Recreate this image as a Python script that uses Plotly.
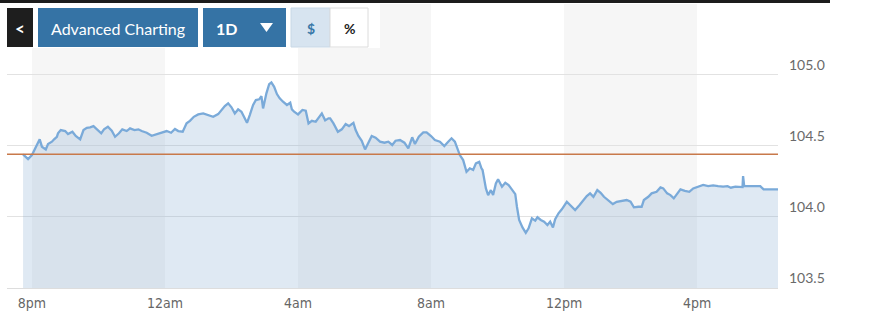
import plotly.graph_objects as go

# ---- data ----
times = ["19:44","19:53","20:00","20:08","20:14","20:18","20:25","20:29","20:36","20:40",
         "20:45","20:47","20:52","21:00","21:05","21:13","21:19","21:27","21:33","21:39",
         "21:45","21:51","21:57","22:05","22:10","22:17","22:24","22:30","22:37","22:43",
         "22:51","22:57","23:05","23:12","23:18","23:27","23:36","23:45","23:54",
         "00:03","00:11","00:18","00:24","00:32","00:39","00:45","00:52","01:00","01:09",
         "01:18","01:27","01:36","01:42","01:48","01:54","02:00","02:06","02:12","02:18",
         "02:24","02:28","02:33","02:39","02:44","02:50","02:54","02:57","03:03","03:08",
         "03:12","03:17","03:22","03:27","03:33","03:40","03:46","03:49","03:53",
         "04:00","04:08","04:14","04:19","04:25","04:32","04:38","04:43","04:49","04:55",
         "04:58","05:04","05:12","05:19","05:26","05:32","05:40","05:44","05:49","05:55",
         "06:01","06:06","06:13","06:20","06:28","06:36","06:43","06:50","06:56","07:04",
         "07:12","07:19","07:26","07:31","07:38","07:46","07:52",
         "08:00","08:07","08:16","08:24","08:31","08:37","08:43","08:48","08:52","08:58",
         "09:04","09:10","09:16","09:21","09:27","09:31","09:33","09:39","09:43","09:48",
         "09:52","09:57","10:01","10:08","10:14","10:20","10:26","10:32","10:35","10:39",
         "10:45","10:51","10:56","11:02","11:08","11:12","11:18","11:24","11:30","11:35",
         "11:40","11:44","11:50","11:56",
         "12:05","12:12","12:20","12:28","12:34","12:41","12:47","12:53","13:00","13:06",
         "13:12","13:20","13:28","13:35","13:44","13:53","14:00","14:06","14:14","14:20",
         "14:24","14:32","14:38","14:47","14:54","14:59","15:06","15:12","15:18","15:24",
         "15:30","15:38","15:46","15:53",
         "16:02","16:11","16:20","16:29","16:38","16:47","16:55","17:01","17:09","17:18",
         "17:22","17:23","17:25","17:36","17:45","17:54","18:00","18:12","18:26"]

prices = [104.439,104.406,104.434,104.493,104.545,104.493,104.474,104.512,104.528,104.545,
          104.563,104.587,104.610,104.603,104.582,104.598,104.568,104.545,104.610,104.626,
          104.629,104.638,104.615,104.587,104.615,104.633,104.605,104.563,104.587,104.615,
          104.603,104.622,104.610,104.615,104.603,104.591,104.570,104.582,104.594,
          104.603,104.591,104.618,104.603,104.598,104.657,104.675,104.703,104.720,104.727,
          104.715,104.703,104.722,104.755,104.779,104.798,104.770,104.727,104.755,104.739,
          104.692,104.661,104.715,104.786,104.821,104.826,104.849,104.762,104.868,104.933,
          104.945,104.914,104.863,104.833,104.809,104.786,104.802,104.755,104.739,
          104.720,104.751,104.746,104.657,104.675,104.668,104.696,104.727,104.678,104.692,
          104.692,104.657,104.598,104.615,104.652,104.638,104.661,104.610,104.568,104.535,
          104.474,104.517,104.568,104.556,104.528,104.521,104.528,104.505,104.535,104.540,
          104.521,104.481,104.559,104.512,104.563,104.594,104.594,
          104.568,104.540,104.528,104.498,104.528,104.552,104.528,104.474,104.434,104.399,
          104.317,104.341,104.329,104.376,104.387,104.341,104.329,104.200,104.153,104.188,
          104.153,104.235,104.264,104.212,104.240,104.224,104.188,104.160,104.071,103.978,
          103.926,103.888,103.919,103.990,103.973,103.997,103.978,103.966,103.942,103.966,
          103.926,103.983,104.025,104.053,
          104.106,104.076,104.048,104.083,104.113,104.146,104.165,104.141,104.188,104.169,
          104.141,104.118,104.090,104.106,104.113,104.118,104.106,104.067,104.071,104.071,
          104.118,104.141,104.165,104.176,104.207,104.200,104.165,104.153,104.130,104.165,
          104.193,104.183,104.176,104.200,
          104.212,104.224,104.216,104.221,104.216,104.212,104.216,104.205,104.212,104.207,
          104.209,104.287,104.216,104.216,104.216,104.216,104.193,104.193,104.193]

prev_close = 104.44
tick_times = ["2023-03-09 20:00", "2023-03-10 00:00", "2023-03-10 04:00",
              "2023-03-10 08:00", "2023-03-10 12:00", "2023-03-10 16:00"]
tick_labels = ["8pm", "12am", "4am", "8am", "12pm", "4pm"]
y_ticks = [103.5, 104.0, 104.5, 105.0]
y_labels = ["103.5", "104.0", "104.5", "105.0"]
bands = [("2023-03-09 20:00", "2023-03-10 00:00"),
         ("2023-03-10 04:00", "2023-03-10 08:00"),
         ("2023-03-10 12:00", "2023-03-10 16:00")]

n = min(len(times), len(prices))
xs = [("2023-03-09 " if int(t[:2]) >= 19 else "2023-03-10 ") + t for t in times[:n]]
ys = prices[:n]

# ---- layout geometry ----
W, H = 870, 325
ML, MR, MT, MB = 7, 92, 4, 37
PW, PH = W - ML - MR, H - MT - MB


def px(xp):
    return (xp - ML) / PW


def py(yp):
    return (H - MB - yp) / PH


fig = go.Figure()
fig.add_trace(go.Scatter(
    x=xs, y=ys, mode="lines",
    line=dict(color="#7aaad9", width=2.3),
    fill="tozeroy", fillcolor="rgba(122,165,205,0.24)",
    hoverinfo="skip", showlegend=False))

shapes = []
for a, b in bands:
    shapes.append(dict(type="rect", xref="x", yref="paper", x0=a, x1=b, y0=0, y1=1,
                       fillcolor="#f6f6f6", line=dict(width=0), layer="below"))
# white toolbar backdrop
shapes.append(dict(type="rect", xref="paper", yref="paper", x0=px(0), x1=px(380),
                   y0=py(48), y1=py(0), fillcolor="white", line=dict(width=0), layer="below"))
# previous close line
shapes.append(dict(type="line", xref="paper", yref="y", x0=0, x1=1, y0=prev_close, y1=prev_close,
                   line=dict(color="#c8794a", width=1.4), layer="above"))
# top border
shapes.append(dict(type="line", xref="paper", yref="paper", x0=px(0), x1=px(830),
                   y0=py(1.5), y1=py(1.5), line=dict(color="#1c1c1c", width=3), layer="above"))
# buttons
def rect(x0, x1, y0, y1, fill, line=None):
    shapes.append(dict(type="rect", xref="paper", yref="paper", x0=px(x0), x1=px(x1),
                       y0=py(y1), y1=py(y0), fillcolor=fill,
                       line=dict(width=1 if line else 0, color=line or fill), layer="above"))

rect(7, 33, 8, 47, "#1e1e1e")
rect(38, 198, 8, 47, "#3573a5")
rect(203, 286, 8, 47, "#3573a5")
rect(291, 330, 8, 47, "#d7e4f0", "#c8d8e6")
rect(330, 368, 8, 47, "#ffffff", "#dcdcdc")
# dropdown triangle
shapes.append(dict(type="path", xref="paper", yref="paper",
                   path=f"M {px(260)} {py(23)} L {px(273)} {py(23)} L {px(266.5)} {py(32)} Z",
                   fillcolor="white", line=dict(width=0), layer="above"))

annotations = []
def label(text, x, color, size=16, bold=False, family="Lato"):
    annotations.append(dict(text=f"<b>{text}</b>" if bold else text, xref="paper", yref="paper",
                            x=px(x), y=py(28), xanchor="center", yanchor="middle",
                            showarrow=False, font=dict(color=color, size=size, family=family)))

label("&lt;", 20, "white", 17, True)
label("Advanced Charting", 118, "white", 16)
label("1D", 226, "white", 16, True)
label("$", 310.5, "#3a78a8", 14, True)
label("%", 349, "#222222", 14, True)

fig.update_layout(
    width=W, height=H,
    margin=dict(l=ML, r=MR, t=MT, b=MB),
    paper_bgcolor="white", plot_bgcolor="white",
    shapes=shapes, annotations=annotations,
    xaxis=dict(type="date", range=["2023-03-09 19:15", "2023-03-10 18:26"],
               tickvals=tick_times, ticktext=tick_labels, showgrid=False,
               showline=True, linecolor="#dddddd", linewidth=1,
               ticks="", ticklabelstandoff=2,
               tickfont=dict(family="Liberation Sans Narrow, DejaVu Sans Condensed, sans-serif",
                             size=14, color="#666666"),
               zeroline=False, fixedrange=True),
    yaxis=dict(side="right", range=[103.5, 103.5 + PH / 142.3],
               tickvals=y_ticks, ticktext=y_labels,
               showgrid=True, gridcolor="#e2e2e2", gridwidth=1,
               ticks="", ticklabelposition="outside top", ticklabelstandoff=10,
               tickfont=dict(family="Lato", size=14, color="#6a6a6a"),
               zeroline=False, showline=False, fixedrange=True),
)

fig.write_html("out.html")
